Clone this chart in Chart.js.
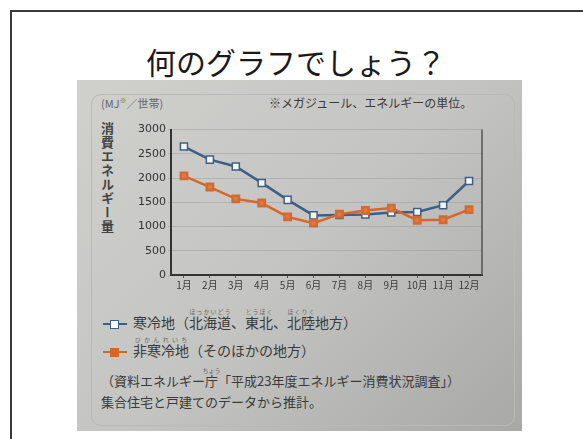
<!DOCTYPE html>
<html lang="ja">
<head>
<meta charset="UTF-8">
<title>何のグラフでしょう？</title>
<style>
  html, body { margin: 0; padding: 0; }
  body {
    width: 583px; height: 439px; overflow: hidden; position: relative;
    background: #fff; font-family: "Noto Sans CJK JP", "Noto Sans", sans-serif;
  }
  #frame { position: absolute; left: 10px; top: 10px; width: 600px; height: 500px; border: 2px solid #3a3a3a; }
  #title { position: absolute; left: 0; width: 592px; top: 39px; text-align: center; font-size: 30px; color: #1a1a1a; }
  #photo {
    position: absolute; left: 77px; top: 80px; width: 445px; height: 351px;
    background: linear-gradient(135deg, #d0d0cd 0%, #c4c5c2 50%, #a8a9a6 100%);
  }
  #panel { position: absolute; left: 14px; top: 14px; width: 422px; height: 330px; border: 1px solid #b9bab7; border-radius: 10px; }
  .t { position: absolute; color: #3a3a3a; white-space: nowrap; }
  #vt { writing-mode: vertical-rl; font-size: 13px; letter-spacing: 1px; font-weight: bold; color: #444; }
  canvas { position: absolute; }
  ruby rt { font-size: 6px; color: #666; }
  .mk { display: inline-block; vertical-align: middle; position: relative; width: 24px; height: 12px; margin-right: 6px; }
  .mk i { position: absolute; left: 0; top: 5px; width: 24px; height: 2px; }
  .mk b { position: absolute; left: 7px; top: 2px; width: 7px; height: 7px; }
</style>
</head>
<body>
<div id="frame"></div>
<div id="title">何のグラフでしょう？</div>
<div id="photo">
  <div id="panel"></div>
  <div class="t" style="left:24px;top:15px;font-size:11px;color:#666;">(MJ<sup style="font-size:7px">※</sup>／世帯)</div>
  <div class="t" style="left:192px;top:14px;font-size:12px;">※メガジュール、エネルギーの単位。</div>
  <div class="t" id="vt" style="left:21px;top:42px;">消費エネルギー量</div>

  <div class="t" style="left:26px;top:228px;font-size:14px;">
    <span class="mk"><i style="background:#3d5f86"></i><b style="background:#fff;border:1px solid #3d5f86"></b></span>寒冷地（<ruby>北海道<rt>ほっかいどう</rt></ruby>、<ruby>東北<rt>とうほく</rt></ruby>、<ruby>北陸<rt>ほくりく</rt></ruby>地方）
  </div>
  <div class="t" style="left:26px;top:256px;font-size:14px;">
    <span class="mk"><i style="background:#d8662a"></i><b style="background:#d8662a;border:1px solid #d8662a"></b></span><ruby>非寒冷地<rt>ひかんれいち</rt></ruby>（そのほかの地方）
  </div>
  <div class="t" style="left:24px;top:287px;font-size:13px;">（資料エネルギー<ruby>庁<rt>ちょう</rt></ruby>「平成23年度エネルギー消費状況調査」）</div>
  <div class="t" style="left:24px;top:312px;font-size:13px;">集合住宅と戸建てのデータから推計。</div>
</div>
<canvas id="myChart" width="369" height="174" style="left:120px;top:121px;width:369px;height:174px;"></canvas>

<script src="https://cdn.jsdelivr.net/npm/chart.js"></script>
<script>
  // 月
  const months = ['1月', '2月', '3月', '4月', '5月', '6月', '7月', '8月', '9月', '10月', '11月', '12月'];
  // 寒冷地（北海道、東北、北陸地方）
  const coldValues = [2650, 2380, 2240, 1900, 1550, 1230, 1240, 1250, 1290, 1300, 1440, 1940];
  // 非寒冷地（そのほかの地方）
  const warmValues = [2045, 1815, 1570, 1485, 1200, 1070, 1255, 1330, 1380, 1130, 1140, 1350];
  const yTicks = [0, 500, 1000, 1500, 2000, 2500, 3000];

  const rightBorder = {
    id: 'rightBorder',
    afterDraw(chart) {
      const a = chart.chartArea, c = chart.ctx;
      c.save();
      c.strokeStyle = '#555';
      c.lineWidth = 1.5;
      c.beginPath();
      c.moveTo(a.right, a.top);
      c.lineTo(a.right, a.bottom);
      c.stroke();
      c.restore();
    }
  };

  const config = {
    type: 'line',
    data: {
      labels: months,
      datasets: [
        {
          label: '非寒冷地',
          data: warmValues,
          borderColor: '#d8662a',
          backgroundColor: '#d8662a',
          borderWidth: 2.5,
          pointStyle: 'rect',
          pointRadius: 4.5,
          pointBorderColor: '#d26a34',
          pointBackgroundColor: '#e07a3a',
          tension: 0
        },
        {
          label: '寒冷地',
          data: coldValues,
          borderColor: '#3d5f86',
          backgroundColor: '#ffffff',
          borderWidth: 2.5,
          pointStyle: 'rect',
          pointRadius: 5,
          pointBorderWidth: 1.5,
          pointBorderColor: '#3d5f86',
          pointBackgroundColor: '#f4f4f4',
          tension: 0
        }
      ]
    },
    options: {
      responsive: false,
      animation: false,
      layout: { padding: { top: 6, right: 6, left: 0, bottom: 0 } },
      plugins: { legend: { display: false }, tooltip: { enabled: false } },
      scales: {
        x: {
          offset: true,
          grid: { display: true, drawOnChartArea: false, tickLength: 3, color: '#555' },
          border: { color: '#333', width: 2 },
          ticks: { color: '#3a3a3a', font: { size: 10, family: 'Noto Sans CJK JP' }, padding: 1, maxRotation: 0, autoSkip: false },
          afterFit(s) { s.height = 20; }
        },
        y: {
          min: 0, max: 3000,
          afterBuildTicks(s) { s.ticks = yTicks.map(v => ({ value: v })); },
          grid: { color: 'rgba(150,150,150,0.45)', tickLength: 3 },
          border: { color: '#333', width: 2 },
          ticks: { color: '#333', font: { size: 11, family: 'DejaVu Sans' }, padding: 2, callback: v => String(v) },
          afterFit(s) { s.width = 51; }
        }
      }
    },
    plugins: [rightBorder]
  };

  const myChart = new Chart(document.getElementById('myChart'), config);
</script>
</body>
</html>
